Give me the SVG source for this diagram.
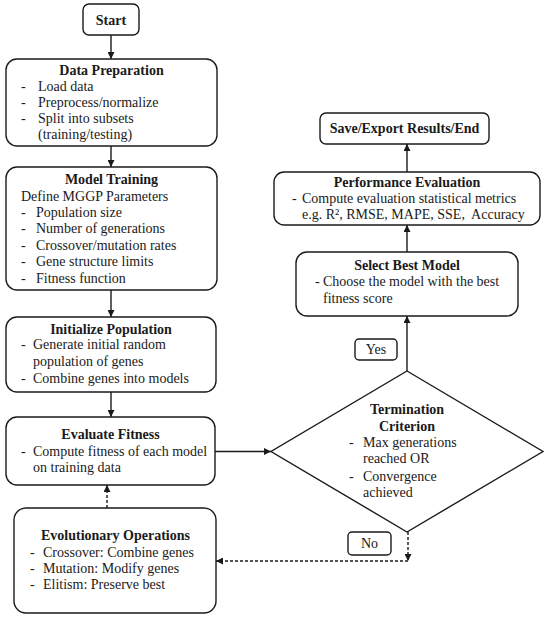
<svg xmlns="http://www.w3.org/2000/svg" width="550" height="618" viewBox="0 0 550 618">
<defs>
<style>
.box{fill:#fff;stroke:#1a1a1a;stroke-width:1.4}
text{font-family:'Liberation Serif',serif;font-size:14px;fill:#1a1a1a}
.b{font-weight:bold;text-anchor:middle}
.c{text-anchor:middle}
.ln{stroke:#1a1a1a;stroke-width:1.4;fill:none}
.dash{stroke-dasharray:3,2}
</style>
<marker id="ah" viewBox="0 0 10 10" refX="10" refY="5" markerWidth="8" markerHeight="7" markerUnits="userSpaceOnUse" orient="auto">
<path d="M0,0 L10,5 L0,10 z" fill="#1a1a1a"/>
</marker>
</defs>
<rect width="550" height="618" fill="#fff"/>
<g id="connectors">
<line class="ln" x1="111" y1="35" x2="111" y2="59" marker-end="url(#ah)"/>
<line class="ln" x1="111" y1="146" x2="111" y2="167" marker-end="url(#ah)"/>
<line class="ln" x1="111" y1="290" x2="111" y2="317" marker-end="url(#ah)"/>
<line class="ln" x1="111" y1="392" x2="111" y2="417" marker-end="url(#ah)"/>
<line class="ln" x1="215" y1="451.5" x2="271" y2="451.5" marker-end="url(#ah)"/>
<line class="ln" x1="407" y1="371" x2="407" y2="316" marker-end="url(#ah)"/>
<line class="ln" x1="407" y1="252" x2="407" y2="225" marker-end="url(#ah)"/>
<line class="ln" x1="407" y1="172" x2="407" y2="144" marker-end="url(#ah)"/>
<line class="ln dash" x1="408" y1="532" x2="408" y2="561" marker-end="url(#ah)"/>
<line class="ln dash" x1="408" y1="561" x2="216" y2="561" marker-end="url(#ah)"/>
<line class="ln dash" x1="107" y1="508" x2="107" y2="485" marker-end="url(#ah)"/>
</g>
<g id="start">
<rect class="box" x="83" y="4" width="56" height="31" rx="6"/>
<text class="b" x="111" y="25">Start</text>
</g>
<g id="data-preparation">
<rect class="box" x="6" y="59" width="211" height="87" rx="11"/>
<text class="b" x="111.5" y="75">Data Preparation</text>
<text x="21" y="91">-</text><text x="38" y="91">Load data</text>
<text x="21" y="107">-</text><text x="38" y="107">Preprocess/normalize</text>
<text x="21" y="123">-</text><text x="38" y="123">Split into subsets</text>
<text x="38" y="139">(training/testing)</text>
</g>
<g id="model-training">
<rect class="box" x="6" y="167" width="211" height="123" rx="11"/>
<text class="b" x="111.5" y="184">Model Training</text>
<text x="21" y="201">Define MGGP Parameters</text>
<text x="21" y="217">-</text><text x="36" y="217">Population size</text>
<text x="21" y="233">-</text><text x="36" y="233">Number of generations</text>
<text x="21" y="250">-</text><text x="36" y="250">Crossover/mutation rates</text>
<text x="21" y="266">-</text><text x="36" y="266">Gene structure limits</text>
<text x="21" y="283">-</text><text x="36" y="283">Fitness function</text>
</g>
<g id="initialize-population">
<rect class="box" x="6" y="317" width="210" height="75" rx="11"/>
<text class="b" x="111" y="334">Initialize Population</text>
<text x="21" y="349">-</text><text x="33" y="349">Generate initial random</text>
<text x="33" y="366">population of genes</text>
<text x="21" y="383">-</text><text x="33" y="383">Combine genes into models</text>
</g>
<g id="evaluate-fitness">
<rect class="box" x="6" y="417" width="209" height="68" rx="11"/>
<text class="b" x="110.5" y="439">Evaluate Fitness</text>
<text x="21" y="456">-</text><text x="33" y="456">Compute fitness of each model</text>
<text x="33" y="472">on training data</text>
</g>
<g id="evolutionary-operations">
<rect class="box" x="14" y="508" width="202" height="105" rx="12"/>
<text class="b" x="115.5" y="540">Evolutionary Operations</text>
<text x="30" y="557">-</text><text x="43" y="557">Crossover: Combine genes</text>
<text x="30" y="573">-</text><text x="43" y="573">Mutation: Modify genes</text>
<text x="30" y="589">-</text><text x="43" y="589">Elitism: Preserve best</text>
</g>
<g id="termination-criterion">
<polygon class="box" points="407,371 543,451.5 407,532 271,451.5"/>
<text class="b" x="407" y="414">Termination</text>
<text class="b" x="407" y="431">Criterion</text>
<text x="349" y="447">-</text><text x="363" y="447">Max generations</text>
<text x="363" y="463">reached OR</text>
<text x="349" y="481">-</text><text x="363" y="481">Convergence</text>
<text x="363" y="497">achieved</text>
</g>
<g id="label-yes">
<rect class="box" x="355" y="339" width="42" height="21" rx="4"/>
<text class="c" x="376" y="354">Yes</text>
</g>
<g id="label-no">
<rect class="box" x="348" y="532" width="43" height="23" rx="4"/>
<text class="c" x="369.5" y="548">No</text>
</g>
<g id="select-best-model">
<rect class="box" x="296" y="252" width="222" height="64" rx="11"/>
<text class="b" x="407" y="270">Select Best Model</text>
<text x="315" y="286">-</text><text x="323" y="286">Choose the model with the best</text>
<text x="323" y="303">fitness score</text>
</g>
<g id="performance-evaluation">
<rect class="box" x="274" y="172" width="266" height="53" rx="10"/>
<text class="b" x="407" y="187">Performance Evaluation</text>
<text x="292" y="203">-</text><text x="302" y="203">Compute evaluation statistical metrics</text>
<text x="302" y="219" xml:space="preserve">e.g. R², RMSE, MAPE, SSE,  Accuracy</text>
</g>
<g id="save-export">
<rect class="box" x="320" y="113" width="169" height="31" rx="6"/>
<text class="b" x="404.5" y="133">Save/Export Results/End</text>
</g>
</svg>
